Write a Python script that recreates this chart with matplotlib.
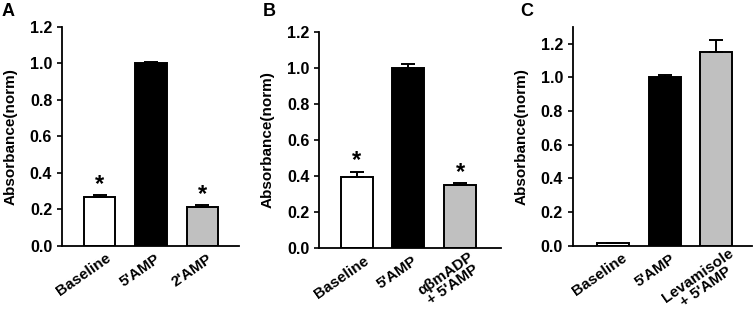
import matplotlib
matplotlib.use("Agg")
import matplotlib.pyplot as plt
import matplotlib.transforms as mtransforms

plt.rcParams['font.family'] = ['Liberation Sans', 'DejaVu Sans']
plt.rcParams['font.weight'] = 'bold'

# Data
labels_a = ["Baseline", "5'AMP", "2'AMP"]
values_a = [0.265, 1.0, 0.215]
errors_a = [0.012, 0.010, 0.010]
stars_a = [True, False, True]

labels_b = ["Baseline", "5'AMP", "αβmADP\n+ 5'AMP"]
values_b = [0.395, 1.0, 0.35]
errors_b = [0.030, 0.018, 0.010]
stars_b = [True, False, True]

labels_c = ["Baseline", "5'AMP", "Levamisole\n+ 5'AMP"]
values_c = [0.015, 1.0, 1.15]
errors_c = [0.003, 0.015, 0.070]
stars_c = [False, False, False]

bar_colors = ["white", "black", "#c0c0c0"]
yticks = [0.0, 0.2, 0.4, 0.6, 0.8, 1.0, 1.2]

fig = plt.figure(figsize=(7.53, 3.10), dpi=100)

# layout: (letter, letter x, labels, values, errors, stars, axes rect, xlim, ytop, label offsets in px)
panels = [
    ("A", 2, labels_a, values_a, errors_a, stars_a, [0.0823, 0.2074, 0.2351, 0.7056], (-0.73, 2.71), 1.2,
     [(6, 0), (4, 0), (4, 0)]),
    ("B", 263, labels_b, values_b, errors_b, stars_b, [0.4240, 0.1990, 0.2410, 0.6990], (-0.73, 2.79), 1.2,
     [(6, 0), (3, 0), (8, 4)]),
    ("C", 520, labels_c, values_c, errors_c, stars_c, [0.7606, 0.2074, 0.2377, 0.7066], (-0.78, 2.69), 1.30,
     [(8, 0), (5, 0), (12, 5)]),
]

for letter, lx, labels, vals, errs, stars, rect, xlim, ytop, offs in panels:
    ax = fig.add_axes(rect)
    x = list(range(len(vals)))
    ax.bar(x, vals, width=0.62, color=bar_colors, edgecolor="black", linewidth=1.4, zorder=2)
    ax.errorbar(x, vals, yerr=[[0] * len(errs), errs], fmt="none", ecolor="black",
                elinewidth=1.4, capsize=5, capthick=1.4, zorder=3)
    for xi, v, e, s in zip(x, vals, errs, stars):
        if s:
            ax.text(xi, v + e - 0.005, "*", ha="center", va="bottom", fontsize=17, fontweight="bold")
    ax.set_xlim(*xlim)
    ax.set_ylim(0, ytop)
    ax.set_yticks(yticks)
    ax.set_yticklabels([f"{t:.1f}" for t in yticks], fontsize=11.5, fontweight="bold")
    ax.set_xticks(x)
    ax.set_xticklabels(labels, rotation=35, ha="right", rotation_mode="anchor",
                       fontsize=11, fontweight="bold", multialignment="center", linespacing=0.92)
    ax.tick_params(axis="x", length=0, pad=4)
    ax.tick_params(axis="y", length=3.5, width=1.2, direction="out", pad=3.5)
    for lab, (dx, dy) in zip(ax.get_xticklabels(), offs):
        lab.set_transform(lab.get_transform() + mtransforms.Affine2D().translate(dx, dy))
    ax.spines["top"].set_visible(False)
    ax.spines["right"].set_visible(False)
    ax.spines["left"].set_linewidth(1.3)
    ax.spines["bottom"].set_linewidth(1.3)
    ax.set_ylabel("Absorbance(norm)", fontsize=11, fontweight="bold", labelpad=9)
    fig.text(lx / 753, 0.99, letter, fontsize=13, fontweight="bold", va="top", ha="left")

fig.savefig("out.png", dpi=100)
